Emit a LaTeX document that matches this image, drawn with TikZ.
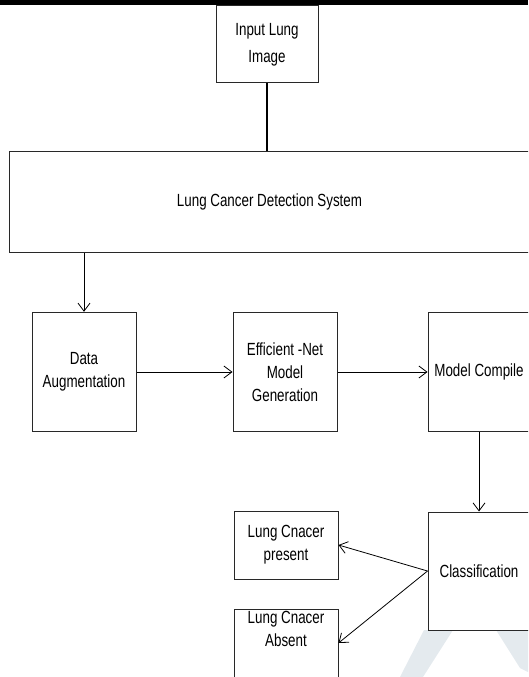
\documentclass[tikz,border=0pt]{standalone}
\usepackage{fontspec}
\setmainfont{Liberation Sans}[FakeStretch=0.76]
\usepackage{xcolor}
\usetikzlibrary{arrows.meta}
\definecolor{wmark}{RGB}{228,234,238}
\definecolor{boxline}{RGB}{40,40,40}

\tikzset{
  blockbox/.style={draw=boxline, line width=0.75pt, align=center, inner sep=1pt, font=\fontsize{13.2}{17.25}\selectfont},
  flowarr/.style={line width=0.6pt, -{Straight Barb[length=6pt,width=9pt]}},
}

\begin{document}
\begin{tikzpicture}[x=0.75pt,y=0.75pt,yscale=-1,xscale=1]
\useasboundingbox (0,0) rectangle (528,677);
\clip (0,0) rectangle (528,677);

%Shape: watermark strokes
\fill[wmark] (400,677) -- (424,630) -- (453,630) -- (423,677) -- cycle ;
\fill[wmark] (496,630) -- (528,630) -- (528,672) -- (520,668) -- cycle ;
%Shape: top bar
\fill (0,0) rectangle (528,5) ;

%Shape: Rectangle
\node[blockbox, minimum width=76.5pt, minimum height=57.75pt] (input) at (267,44.5) {Input Lung\\[3pt]Image};
%Shape: Rectangle
\node[blockbox, minimum width=390.75pt, minimum height=75pt] (system) at (269.5,202) {Lung Cancer Detection System};
%Shape: Rectangle
\node[blockbox, minimum width=78pt, minimum height=89.6pt] (aug) at (84,372) {Data\\Augmentation};
%Shape: Rectangle
\node[blockbox, minimum width=78pt, minimum height=89.6pt] (effnet) at (285,372) {Efficient -Net\\Model\\Generation};
%Shape: Rectangle
\node[blockbox, minimum width=76.5pt, minimum height=89.6pt] (compile) at (479,372) {Model Compile};
%Shape: Rectangle
\node[blockbox, minimum width=76.5pt, minimum height=88.5pt] (classify) at (479,571) {Classification};
%Shape: Rectangle
\node[blockbox, minimum width=78pt, minimum height=51pt] (present) at (286,545) {Lung Cnacer\\present};
%Shape: Rectangle
\node[blockbox, minimum width=78pt, minimum height=51pt] (absent) at (286,643) {};
% Text Node
\node[blockbox, draw=none, anchor=north, inner sep=1.5pt] (absenttxt) at (absent.north) {Lung Cnacer\\Absent};

%Straight Lines
\draw[line width=1.5pt] (input.south) -- (input.south |- system.north) ;
%Straight Lines
\draw[flowarr] (aug.north |- system.south) -- (aug.north) ;
\draw[flowarr] (aug.east) -- (effnet.west) ;
\draw[flowarr] (effnet.east) -- (compile.west) ;
\draw[flowarr] (compile.south) -- (classify.north) ;
\draw[flowarr] (classify.west) -- (present.east) ;
\draw[flowarr] (classify.west) -- (absent.east) ;

\end{tikzpicture}
\end{document}
